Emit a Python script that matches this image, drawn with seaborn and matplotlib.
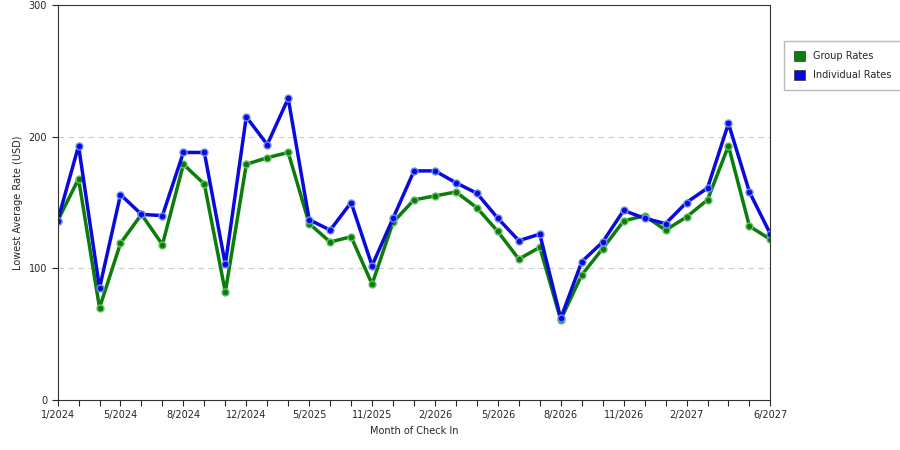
import matplotlib
matplotlib.use("Agg")
import matplotlib.pyplot as plt
import seaborn as sns
import pandas as pd

labels = ["1/2024","","","5/2024","","","8/2024","","","12/2024","","","5/2025","","","11/2025","","","2/2026","","","5/2026","","","8/2026","","","11/2026","","","2/2027","","","","6/2027"]
individual = [136,193,85,156,141,140,188,188,103,215,194,229,137,129,150,102,138,174,174,165,157,138,121,126,62,105,120,144,138,134,150,161,210,158,126]
group = [136,168,70,119,141,118,179,164,82,179,184,188,134,120,124,88,135,152,155,158,146,128,107,116,61,95,115,136,140,129,139,152,193,132,122]

idx = list(range(len(labels)))
df = pd.DataFrame({"i": idx * 2, "v": group + individual,
                   "s": ["Group Rates"] * len(idx) + ["Individual Rates"] * len(idx)})

sns.set_style("white")
fig = plt.figure(figsize=(9, 4.5), dpi=100)
ax = fig.add_axes([0.064, 0.111, 0.792, 0.878])
pal = {"Group Rates": "#0a7d0a", "Individual Rates": "#0a0adc"}
edge = {"Group Rates": "#6fbf6f", "Individual Rates": "#6f8fef"}
for s in ["Group Rates", "Individual Rates"]:
    d = df[df.s == s]
    sns.lineplot(data=d, x="i", y="v", ax=ax, color=pal[s], lw=2.5, marker="o",
                 markersize=5, markeredgecolor=edge[s], markeredgewidth=1, label=s)
ax.set_xlim(0, len(idx) - 1)
ax.set_ylim(0, 300)
ax.set_yticks([0, 100, 200, 300])
ax.set_xticks(idx)
ax.set_xticklabels(labels)
for t, l in zip(ax.xaxis.get_major_ticks(), labels):
    if not l:
        t.tick1line.set_visible(False)
for y in [100, 200]:
    ax.axhline(y, color="#cccccc", ls=(0, (5, 4)), lw=0.8, zorder=0)
ax.tick_params(labelsize=7, length=4, direction="out", left=True, bottom=True)
ax.set_xlabel("Month of Check In", fontsize=7)
ax.set_ylabel("Lowest Average Rate (USD)", fontsize=7)
for sp in ax.spines.values():
    sp.set_color("#333333"); sp.set_linewidth(0.8)
h, l = ax.get_legend_handles_labels()
ax.legend([plt.Rectangle((0, 0), 1, 1, fc=pal[x], ec="#333333", lw=0.5) for x in l], l,
          loc="upper left", bbox_to_anchor=(1.012, 0.92), fontsize=7, frameon=True,
          fancybox=False, edgecolor="#aaaaaa", handlelength=1.2, handleheight=1.2,
          borderpad=1.0, labelspacing=0.9)
fig.savefig("out.png", dpi=100)
